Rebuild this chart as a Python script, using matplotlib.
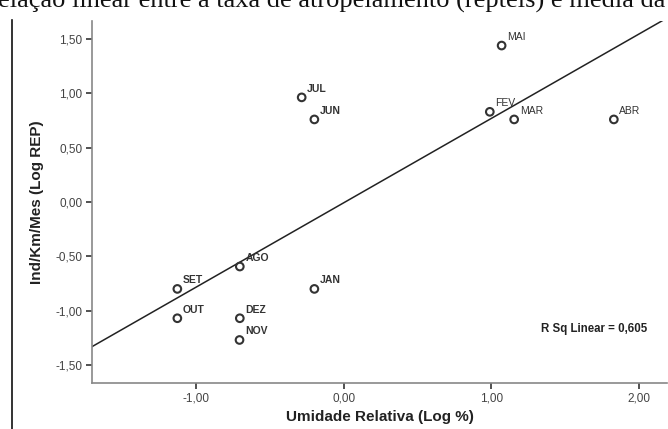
import numpy as np
import matplotlib
matplotlib.use('Agg')
import matplotlib.pyplot as plt
from matplotlib.lines import Line2D

plt.rcParams['font.family'] = ['Liberation Sans', 'DejaVu Sans']

# data
months = ['MAI', 'FEV', 'MAR', 'ABR', 'JUL', 'JUN', 'AGO', 'SET', 'JAN', 'OUT', 'DEZ', 'NOV']
umidade = [1.07, 0.99, 1.155, 1.83, -0.284, -0.198, -0.703, -1.126, -0.198, -1.126, -0.703, -0.705]
rep = [1.44, 0.83, 0.76, 0.76, 0.963, 0.76, -0.594, -0.80, -0.80, -1.07, -1.07, -1.27]
bold_labels = ['JUL', 'JUN', 'AGO', 'SET', 'JAN', 'OUT', 'DEZ', 'NOV']

xticks = [-1.0, 0.0, 1.0, 2.0]
yticks = [-1.5, -1.0, -0.5, 0.0, 0.5, 1.0, 1.5]

W, H = 668, 429
fig = plt.figure(figsize=(W / 100, H / 100), dpi=100)
ax = fig.add_axes([92 / W, 1 - 383 / H, (667 - 92) / W, (383 - 21) / H])

x = np.asarray(umidade)
y = np.asarray(rep)

xlim = (-1.704, 2.19)
ylim = (-1.666, 1.666)

# linear fit
b, a = np.polyfit(x, y, 1)
r2 = np.corrcoef(x, y)[0, 1] ** 2
xx = np.array(xlim)
ax.plot(xx, a + b * xx, color='#222222', lw=1.1, zorder=2)

ax.scatter(x, y, s=30, facecolors='none', edgecolors='#333333', linewidths=1.5, zorder=3)

for m, xi, yi in zip(months, x, y):
	ax.annotate(m, (xi, yi), xytext=(4, 4), textcoords='offset points',
				fontsize=7.5, color='#333333',
				fontweight='bold' if m in bold_labels else 'normal')

ax.text(0.965, 0.149, 'R Sq Linear = ' + f'{r2:.3f}'.replace('.', ','),
		transform=ax.transAxes, ha='right', va='center',
		fontsize=8.3, fontweight='bold', color='#222222')

ax.set_xlim(*xlim)
ax.set_ylim(*ylim)
ax.set_xticks(xticks)
ax.set_yticks(yticks)
ax.set_xticklabels([f'{t:.2f}'.replace('.', ',') for t in xticks])
ax.set_yticklabels([f'{t:.2f}'.replace('.', ',') for t in yticks])
ax.tick_params(labelsize=8.5, colors='#333333', labelcolor='#444444', length=4, width=1.2, pad=3)

for s in ['top', 'right']:
	ax.spines[s].set_visible(False)
for s in ['left', 'bottom']:
	ax.spines[s].set_color('#888888')
	ax.spines[s].set_linewidth(1.2)

ax.set_xlabel('Umidade Relativa (Log %)', fontsize=11, fontweight='bold', color='#222222', labelpad=4)
ax.set_ylabel('Ind/Km/Mes (Log REP)', fontsize=11, fontweight='bold', color='#222222', labelpad=8)

# cropped caption and page border
fig.text(-2 / W, 1 - 7.5 / H, 'elação linear entre a taxa de atropelamento (répteis) e média da',
		 family=['Liberation Serif', 'DejaVu Serif'], fontsize=19, va='baseline', ha='left', color='#111111')
fig.add_artist(Line2D([12.5 / W, 12.5 / W], [0, 1 - 20 / H], color='#111111', lw=1.2))

fig.savefig('out.png', dpi=100)
